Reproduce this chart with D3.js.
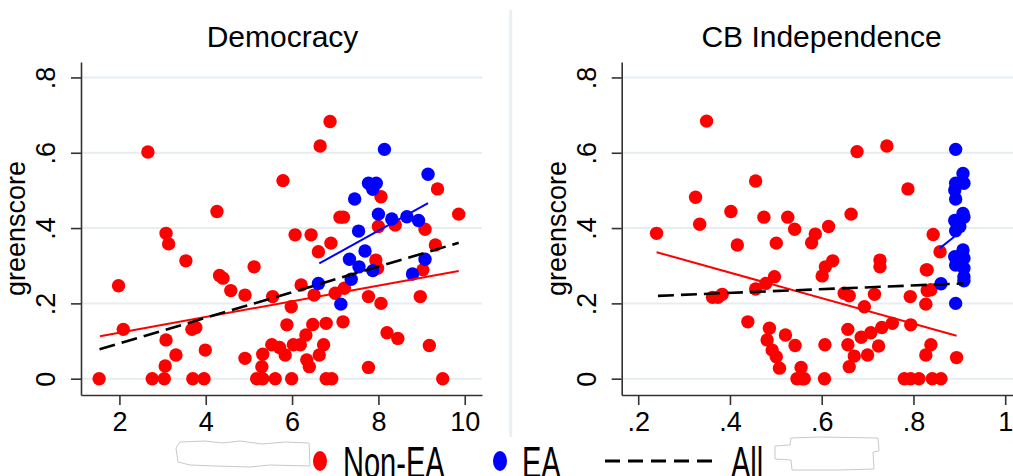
<!DOCTYPE html>
<html>
<head>
<meta charset="utf-8">
<script src="https://cdn.jsdelivr.net/npm/d3@7"></script>
<style>
  html, body { margin: 0; padding: 0; background: #fff; }
  svg { display: block; font-family: "Liberation Sans", Arial, sans-serif; }
</style>
</head>
<body>
<svg id="chart" width="1013" height="476"></svg>
<script>
// values: [x, greenscore]
const democracyNonEA = [
  [1.53,0],[1.98,0.247],[2.09,0.131],[2.66,0.602],[2.76,0],[3.04,0],[3.08,0.103],[3.06,0.034],
  [3.08,0.386],[3.14,0.358],[3.31,0.063],[3.54,0.313],[3.70,0],[3.77,0.136],[3.68,0.131],[3.96,0],
  [3.99,0.076],[4.26,0.444],[4.32,0.274],[4.40,0.267],[4.58,0.234],[4.91,0.222],[5.12,0.297],[4.91,0.054],
  [5.18,0],[5.32,0],[5.32,0.065],[5.30,0.032],[5.53,0.09],[5.61,0],[5.55,0.218],[5.71,0.083],
  [5.79,0.526],[5.84,0.063],[5.88,0.143],[5.98,0.191],[5.99,0],[6.03,0.09],[6.07,0.382],[6.19,0.09],
  [6.21,0.249],[6.32,0.116],[6.34,0.05],[6.40,0.032],[6.44,0.382],[6.48,0.144],[6.51,0.222],[6.61,0.337],
  [6.65,0.618],[6.63,0.063],[6.73,0.09],[6.79,0],[6.79,0.147],[6.88,0.683],[6.90,0.36],[6.92,0],
  [7.00,0.227],[7.11,0.429],[7.19,0.429],[7.18,0.151],[7.21,0.24],[7.77,0.218],[7.77,0.03],[7.94,0.315],
  [7.98,0.293],[8.00,0.404],[8.06,0.483],[8.06,0.2],[8.20,0.122],[8.39,0.408],[8.45,0.107],[8.97,0.218],
  [9.03,0.289],[9.08,0.397],[9.18,0.088],[9.32,0.355],[9.37,0.504],[9.49,0],[9.86,0.437]
];
const democracyEA = [
  [6.61,0.253],[7.13,0.198],[7.37,0.264],[7.33,0.317],[7.45,0.477],[7.54,0.392],[7.55,0.297],[7.69,0.339],
  [7.87,0.287],[7.77,0.519],[7.95,0.519],[7.87,0.503],[8.14,0.609],[8.00,0.437],[8.31,0.424],[8.66,0.43],
  [8.93,0.42],[8.79,0.278],[9.08,0.317],[9.15,0.543]
];
const cbiNonEA = [
  [0.240,0.386],[0.349,0.684],[0.325,0.482],[0.334,0.41],[0.362,0.216],[0.374,0.216],[0.383,0.224],[0.402,0.444],
  [0.416,0.355],[0.439,0.151],[0.456,0.525],[0.456,0.238],[0.474,0.429],[0.486,0.134],[0.481,0.103],[0.492,0.076],
  [0.501,0.36],[0.497,0.271],[0.478,0.253],[0.501,0.058],[0.508,0.028],[0.521,0.116],[0.526,0.429],[0.541,0.397],
  [0.542,0.088],[0.555,0.03],[0.557,0],[0.546,0],[0.562,0],[0.578,0.361],[0.586,0.384],[0.601,0.273],
  [0.608,0.297],[0.615,0.404],[0.624,0.313],[0.607,0.09],[0.606,0],[0.649,0.227],[0.660,0.22],[0.657,0.131],
  [0.657,0.09],[0.660,0.032],[0.671,0.06],[0.664,0.437],[0.677,0.603],[0.686,0.11],[0.693,0.191],[0.700,0.063],
  [0.707,0.122],[0.715,0.224],[0.724,0.087],[0.727,0.315],[0.727,0.297],[0.731,0.136],[0.742,0.618],[0.754,0.147],
  [0.788,0.504],[0.780,0],[0.794,0],[0.812,0],[0.794,0.143],[0.793,0.218],[0.827,0.198],[0.830,0.289],
  [0.838,0.236],[0.827,0.063],[0.838,0.09],[0.841,0],[0.860,0],[0.843,0.383],[0.858,0.337],[0.894,0.056],
  [0.828,0.289],[0.830,0.234]
];
const cbiEA = [
  [0.892,0.609],[0.908,0.545],[0.892,0.519],[0.910,0.519],[0.890,0.501],[0.892,0.477],[0.908,0.439],[0.910,0.429],
  [0.890,0.42],[0.892,0.393],[0.901,0.404],[0.908,0.342],[0.890,0.324],[0.910,0.32],[0.892,0.302],[0.910,0.293],
  [0.910,0.271],[0.910,0.26],[0.860,0.252],[0.892,0.2]
];

// fitted lines, endpoints
const democracyFitNonEA = [[1.55,0.113],[9.86,0.286]];
const democracyFitEA = [[6.63,0.306],[9.15,0.466]];
const democracyFitAll = [[1.54,0.078],[9.86,0.361]];
const cbiFitNonEA = [[0.24,0.336],[0.894,0.114]];
const cbiFitEA = [[0.857,0.346],[0.889,0.377]];
const cbiFitAll = [[0.243,0.22],[0.908,0.253]];

const yTicks = [0, 0.2, 0.4, 0.6, 0.8];
const democracyTicks = [2, 4, 6, 8, 10];
const cbiTicks = [0.2, 0.4, 0.6, 0.8, 1];
const legendLabels = ['Non-EA', 'EA', 'All'];

const RED = '#ff0000', BLUE = '#0000ff';
const svg = d3.select('#chart');
svg.append('rect').attr('width', 1013).attr('height', 476).attr('fill', '#fff');

// dot-less decimal labels, like Stata
const fmt = d => d === 0 ? '0' : d === 1 ? '1' : String(+d.toFixed(1)).replace(/^0/, '');

const yTop = 62, yBottom = 395;
const y = d3.scaleLinear().domain([-0.0433, 0.841]).range([yBottom, yTop]);

function panel(opt) {
  const x = d3.scaleLinear().domain(opt.xDomain).range([opt.x0, opt.x1]);
  const g = svg.append('g');

  g.selectAll('line.grid')
    .data(yTicks)
    .enter().append('line')
      .attr('class', 'grid')
      .attr('x1', opt.x0 + 1).attr('x2', opt.x1)
      .attr('y1', d => y(d)).attr('y2', d => y(d))
      .attr('stroke', '#e6eef1')
      .attr('stroke-width', 2);

  // x axis
  const xa = g.append('g')
    .attr('transform', `translate(0,${yBottom})`)
    .call(d3.axisBottom(x).tickValues(opt.ticks).tickFormat(fmt).tickSize(10).tickSizeOuter(0).tickPadding(7));
  xa.selectAll('text').attr('font-size', 27).attr('fill', '#000').attr('font-family', null);
  xa.selectAll('line, path').attr('stroke', '#333').attr('stroke-width', 1.6);

  // y axis, labels turned on their side
  const ya = g.append('g')
    .attr('transform', `translate(${opt.x0},0)`)
    .call(d3.axisLeft(y).tickValues(yTicks).tickFormat(fmt).tickSize(10).tickSizeOuter(0));
  ya.selectAll('text')
    .attr('x', null).attr('dy', null)
    .attr('text-anchor', 'middle')
    .attr('transform', 'translate(-26,0) rotate(-90)')
    .attr('font-size', 27).attr('fill', '#000').attr('font-family', null);
  ya.selectAll('line, path').attr('stroke', '#333').attr('stroke-width', 1.6);

  g.append('text')
    .attr('transform', `translate(${opt.x0 - 56},${(yTop + yBottom) / 2}) rotate(-90)`)
    .attr('text-anchor', 'middle')
    .attr('font-size', 27)
    .text('greenscore');

  g.append('text')
    .attr('x', opt.titleX).attr('y', 47)
    .attr('text-anchor', 'middle')
    .attr('font-size', 30)
    .text(opt.title);

  const dots = (data, color) => g.append('g').selectAll('circle')
    .data(data)
    .enter().append('circle')
      .attr('cx', d => x(d[0]))
      .attr('cy', d => y(d[1]))
      .attr('r', 6.7)
      .attr('fill', color);
  dots(opt.nonEA, RED);
  dots(opt.ea, BLUE);

  const line = d3.line().x(d => x(d[0])).y(d => y(d[1]));
  g.append('path').attr('d', line(opt.fitNonEA)).attr('stroke', RED).attr('stroke-width', 2).attr('fill', 'none');
  g.append('path').attr('d', line(opt.fitEA)).attr('stroke', BLUE).attr('stroke-width', 2).attr('fill', 'none');
  g.append('path').attr('d', line(opt.fitAll)).attr('stroke', '#000').attr('stroke-width', 2.6)
    .attr('stroke-dasharray', '16,7').attr('fill', 'none');
}

panel({
  title: 'Democracy', titleX: 282.5,
  x0: 81, x1: 482, xDomain: [1.11, 10.40], ticks: democracyTicks,
  nonEA: democracyNonEA, ea: democracyEA,
  fitNonEA: democracyFitNonEA, fitEA: democracyFitEA, fitAll: democracyFitAll
});
panel({
  title: 'CB Independence', titleX: 821.5,
  x0: 621.7, x1: 1013, xDomain: [0.164, 1.017], ticks: cbiTicks,
  nonEA: cbiNonEA, ea: cbiEA,
  fitNonEA: cbiFitNonEA, fitEA: cbiFitEA, fitAll: cbiFitAll
});

// faint divider between the two graphs
svg.append('line')
  .attr('x1', 510.7).attr('x2', 510.7).attr('y1', 10).attr('y2', 437)
  .attr('stroke', '#e8f0f3').attr('stroke-width', 3);

// legend (condensed text)
const leg = svg.append('g');
leg.append('ellipse').attr('cx', 320).attr('cy', 461).attr('rx', 7).attr('ry', 10).attr('fill', RED);
leg.append('ellipse').attr('cx', 500).attr('cy', 461).attr('rx', 7).attr('ry', 10).attr('fill', BLUE);
leg.append('line').attr('x1', 605).attr('x2', 716).attr('y1', 461).attr('y2', 461)
  .attr('stroke', '#000').attr('stroke-width', 3).attr('stroke-dasharray', '15,8');
const legX = [343, 522, 731];
leg.selectAll('text')
  .data(legendLabels)
  .enter().append('text')
    .attr('transform', (d, i) => `translate(${legX[i]},478) scale(0.66,1)`)
    .attr('font-size', 44)
    .text(d => d);

// whited-out patches on both sides of the legend
const blob = d3.line();
svg.append('path')
  .attr('d', blob([[176,448],[180,442],[205,441],[222,443],[240,441],[262,444],[285,442],[309,443],[310,466],[270,465],[250,467],[215,466],[190,465],[178,462]]) + 'Z')
  .attr('fill', '#fff').attr('stroke', '#c9c9c9').attr('stroke-width', 1);
svg.append('path')
  .attr('d', blob([[775,446],[790,445],[791,438],[820,437],[878,438],[879,451],[873,452],[874,469],[840,470],[792,470],[791,460],[775,459]]) + 'Z')
  .attr('fill', '#fff').attr('stroke', '#c9c9c9').attr('stroke-width', 1);
</script>
</body>
</html>
